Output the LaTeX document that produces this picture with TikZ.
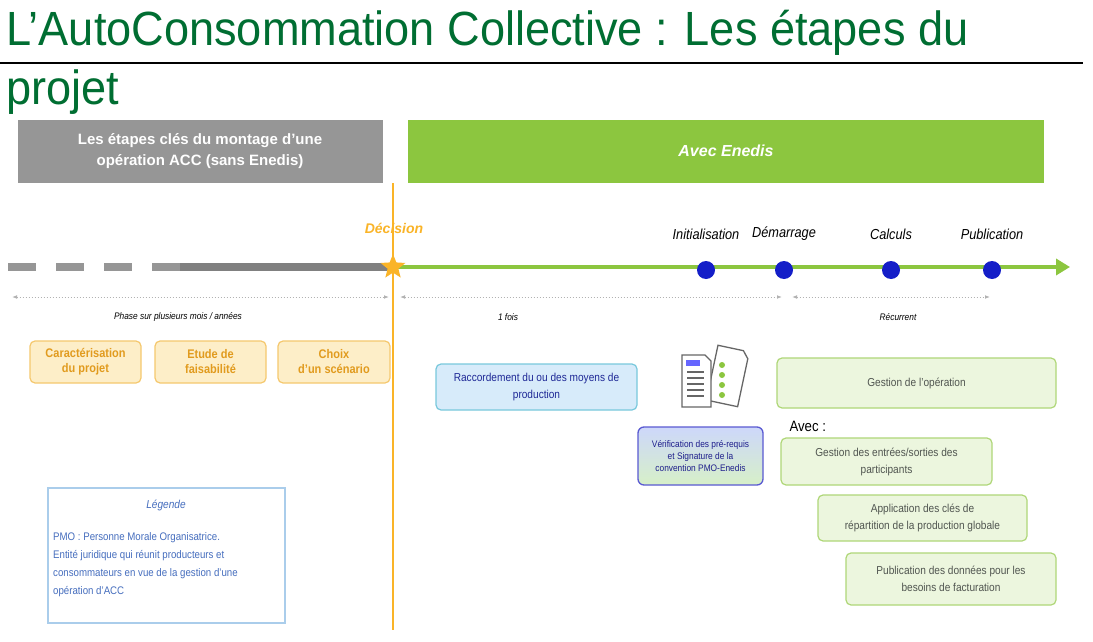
\documentclass[tikz,border=0pt]{standalone}
\usepackage{fontspec}
\setmainfont{Liberation Sans}
\newfontfamily\titlefont[FakeStretch=0.94]{Liberation Sans}
\newfontfamily\narrowfont[FakeStretch=0.88]{Liberation Sans}
\usetikzlibrary{shapes.geometric,arrows.meta}
\definecolor{tgreen}{RGB}{0,110,50}
\definecolor{lgreen}{RGB}{140,198,63}
\definecolor{bgray}{RGB}{150,150,150}
\definecolor{orng}{RGB}{250,180,40}
\definecolor{ofill}{RGB}{253,238,200}
\definecolor{oborder}{RGB}{245,200,110}
\definecolor{otext}{RGB}{225,155,30}
\definecolor{gfill}{RGB}{236,246,222}
\definecolor{gborder}{RGB}{175,215,120}
\definecolor{gtext}{RGB}{80,85,80}
\definecolor{dblue}{RGB}{20,30,200}
\definecolor{lblue}{RGB}{70,110,190}
\tikzset{
 x=1pt,y=-1pt,
 obox/.style={draw=oborder,fill=ofill,rounded corners=5pt,line width=1.2pt,text=otext,font=\narrowfont\bfseries\fontsize{12.5}{15}\selectfont,align=center},
 gbox/.style={draw=gborder,fill=gfill,rounded corners=5pt,line width=1.2pt,text=gtext,font=\narrowfont\fontsize{11.5}{17}\selectfont,align=center},
 dot/.style={circle,fill=dblue,inner sep=0pt,minimum size=18pt},
 mlabel/.style={font=\narrowfont\itshape\fontsize{14.5}{16}\selectfont},
 small/.style={font=\narrowfont\itshape\fontsize{9.5}{11}\selectfont},
 dotarrow/.style={draw=gray!60,dotted,line width=1pt,{Latex[length=5pt]}-{Latex[length=5pt]}}
}
\begin{document}
\begin{tikzpicture}
\useasboundingbox (0,0) rectangle (1093,642);
\fill[white] (0,0) rectangle (1093,642);
\node[anchor=base west,text=tgreen,font=\titlefont\fontsize{48}{52}\selectfont,inner sep=0pt] (t1) at (6,46) {L’AutoConsommation Collective : Les étapes du};
\node[anchor=base west,text=tgreen,font=\titlefont\fontsize{48}{52}\selectfont,inner sep=0pt] (t2) at (6,105) {projet};
\draw[line width=2.5pt] (0,63) -- (1083,63);
% banners
\fill[bgray] (18,120) rectangle (383,183);
\node[text=white,font=\bfseries\fontsize{15}{21}\selectfont,align=center] (b1) at (200,151) {Les étapes clés du montage d’une\\opération ACC (sans Enedis)};
\fill[lgreen] (408,120) rectangle (1044,183);
\node[text=white,font=\bfseries\itshape\fontsize{16}{18}\selectfont] (b2) at (726,151) {Avec Enedis};
% timeline
\coordinate (s0) at (8,267); \coordinate (s1) at (180,267); \coordinate (dec) at (393,267); \coordinate (end) at (1070,267);
\draw[bgray,line width=8pt,dash pattern=on 28pt off 20pt] (s0) -- (s1);
\draw[bgray!85!black,line width=8pt] (s1) -- (dec);
\draw[lgreen,line width=4.5pt,-{Triangle[length=14pt,width=16pt]}] (dec) -- (end);
\draw[orng,line width=1.2pt] (393,183) -- (393,630);
\node[star,star points=5,star point ratio=2.3,fill=orng,inner sep=0pt,minimum size=26pt] (star) at (dec) {};
\node[text=orng,font=\bfseries\itshape\fontsize{14}{16}\selectfont] (decl) at (394,228) {Décision};
\foreach \x/\n/\l in {706/d1/Initialisation,784/d2/Démarrage,891/d3/Calculs,992/d4/Publication}{
 \node[dot] (\n) at (\x,270) {};
 \node[mlabel] at (\x,234) {\l};
}
\coordinate (a1) at (12,297); \coordinate (a2) at (389,297);
\coordinate (a3) at (400,297); \coordinate (a4) at (782,297);
\coordinate (a5) at (792,297); \coordinate (a6) at (990,297);
\draw[dotarrow] (a1) -- (a2);
\draw[dotarrow] (a3) -- (a4);
\draw[dotarrow] (a5) -- (a6);
\node[small] (p1) at (178,317) {Phase sur plusieurs mois / années};
\node[small] (p2) at (508,317) {1 fois};
\node[small] (p3) at (898,317) {Récurrent};
% orange boxes
\node[obox,minimum width=111pt,minimum height=42pt] (o1) at (85.5,362) {Caractérisation\\du projet};
\node[obox,minimum width=111pt,minimum height=42pt] (o2) at (210.5,362) {Etude de\\faisabilité};
\node[obox,minimum width=112pt,minimum height=42pt] (o3) at (334,362) {Choix\\d’un scénario};
% blue box
\node[draw={rgb,255:red,120;green,200;blue,220},fill={rgb,255:red,215;green,235;blue,250},rounded corners=5pt,line width=1.2pt,text={rgb,255:red,30;green,40;blue,150},font=\narrowfont\fontsize{11.5}{17}\selectfont,align=center,minimum width=201pt,minimum height=46pt] (rb) at (536.5,387) {Raccordement du ou des moyens de\\production};
% document icon
\begin{scope}[line width=1.3pt,draw=gray!80!black]
\filldraw[fill=white,rotate around={-12:(728,375)}] (712,348) -- (738,348) -- (744,355) -- (744,404) -- (712,404) -- cycle;
\filldraw[fill=white] (682,355) -- (705,355) -- (711,361) -- (711,407) -- (682,407) -- cycle;
\fill[blue!60] (686,360) rectangle (700,366);
\foreach \yy in {372,378,384,390,396}{\draw[line width=1.5pt] (687,\yy) -- (704,\yy);}
\foreach \yy in {365,375,385,395}{\fill[lgreen] (722,\yy) circle (3pt);}
\end{scope}
% purple box
\node[draw={rgb,255:red,90;green,90;blue,210},top color={rgb,255:red,205;green,215;blue,250},bottom color={rgb,255:red,215;green,240;blue,200},rounded corners=6pt,line width=1.3pt,text={rgb,255:red,30;green,30;blue,140},font=\narrowfont\fontsize{9.5}{12}\selectfont,align=center,minimum width=125pt,minimum height=58pt,inner sep=2pt] (pb) at (700.5,456) {Vérification des pré-requis\\et Signature de la\\convention PMO-Enedis};
% green boxes
\node[gbox,minimum width=279pt,minimum height=50pt] (g1) at (916.5,383) {Gestion de l’opération};
\node[font=\narrowfont\fontsize{15}{17}\selectfont,anchor=west] (avec) at (786,426) {Avec :};
\node[gbox,minimum width=211pt,minimum height=47pt] (g2) at (886.5,461.5) {Gestion des entrées/sorties des\\participants};
\node[gbox,minimum width=209pt,minimum height=46pt] (g3) at (922.5,518) {Application des clés de\\répartition de la production globale};
\node[gbox,minimum width=210pt,minimum height=52pt] (g4) at (951,579) {Publication des données pour les\\besoins de facturation};
% legend
\draw[draw={rgb,255:red,170;green,205;blue,235},line width=1.2pt] (48,488) rectangle (285,623);
\node[text=lblue,font=\narrowfont\itshape\fontsize{11.5}{13}\selectfont] (lg) at (166,505) {Légende};
\node[text=lblue,font=\narrowfont\fontsize{11}{18}\selectfont,align=left,anchor=north west,inner sep=0pt] (lt) at (53,532) {PMO : Personne Morale Organisatrice.\\Entité juridique qui réunit producteurs et\\consommateurs en vue de la gestion d’une\\opération d’ACC};
\end{tikzpicture}
\end{document}
